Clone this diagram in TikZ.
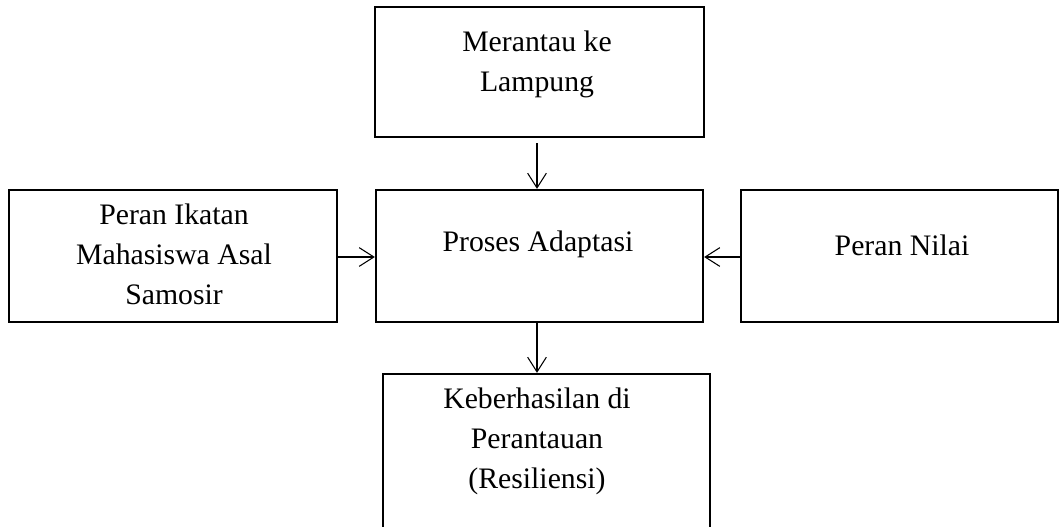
\documentclass[tikz,border=0pt]{standalone}
\usepackage{fontspec}
\setmainfont{Liberation Serif}
\usetikzlibrary{arrows.meta}
\begin{document}
\begin{tikzpicture}[x=0.75pt,y=-0.75pt,
  box/.style={draw=black,line width=1.7pt,rectangle,inner sep=0pt},
  txt/.style={align=center,font=\fontsize{22.3}{30}\selectfont,inner sep=0pt},
  conn/.style={line width=0.8pt,-{Straight Barb[length=11pt,width=14pt,line width=0.8pt]}}]
\useasboundingbox (0,0) rectangle (1063,526);
\begin{scope}
\clip (0,0) rectangle (1063,526);
% boxes
\node[box,minimum width=329*0.75pt,minimum height=130*0.75pt] (top) at (539.5,72) {};
\node[box,minimum width=327*0.75pt,minimum height=132*0.75pt] (mid) at (539.5,256) {};
\node[box,minimum width=328*0.75pt,minimum height=132*0.75pt] (left) at (173,256) {};
\node[box,minimum width=317*0.75pt,minimum height=132*0.75pt] (right) at (899.5,256) {};
\node[box,minimum width=327*0.75pt,minimum height=170*0.75pt] (bot) at (546.5,459) {};
% texts
\node[txt] (ttop) at (537,64) {Merantau ke\\Lampung};
\node[txt] (tmid) at (538,244) {Proses Adaptasi};
\node[txt] (tleft) at (174,254) {Peran Ikatan\\Mahasiswa Asal\\Samosir};
\node[txt] (tright) at (902,245) {Peran Nilai};
\node[txt] (tbot) at (537,441) {Keberhasilan di\\Perantauan\\(Resiliensi)};
% connectors
\draw[conn] ([yshift=-4pt]top.south -| 537,0) -- (mid.north -| 537,0);
\draw[conn] (left.east |- 0,257) -- (mid.west |- 0,257);
\draw[conn] (right.west |- 0,257) -- (mid.east |- 0,257);
\draw[conn] (mid.south -| 537,0) -- (bot.north -| 537,0);
\end{scope}
\end{tikzpicture}
\end{document}
